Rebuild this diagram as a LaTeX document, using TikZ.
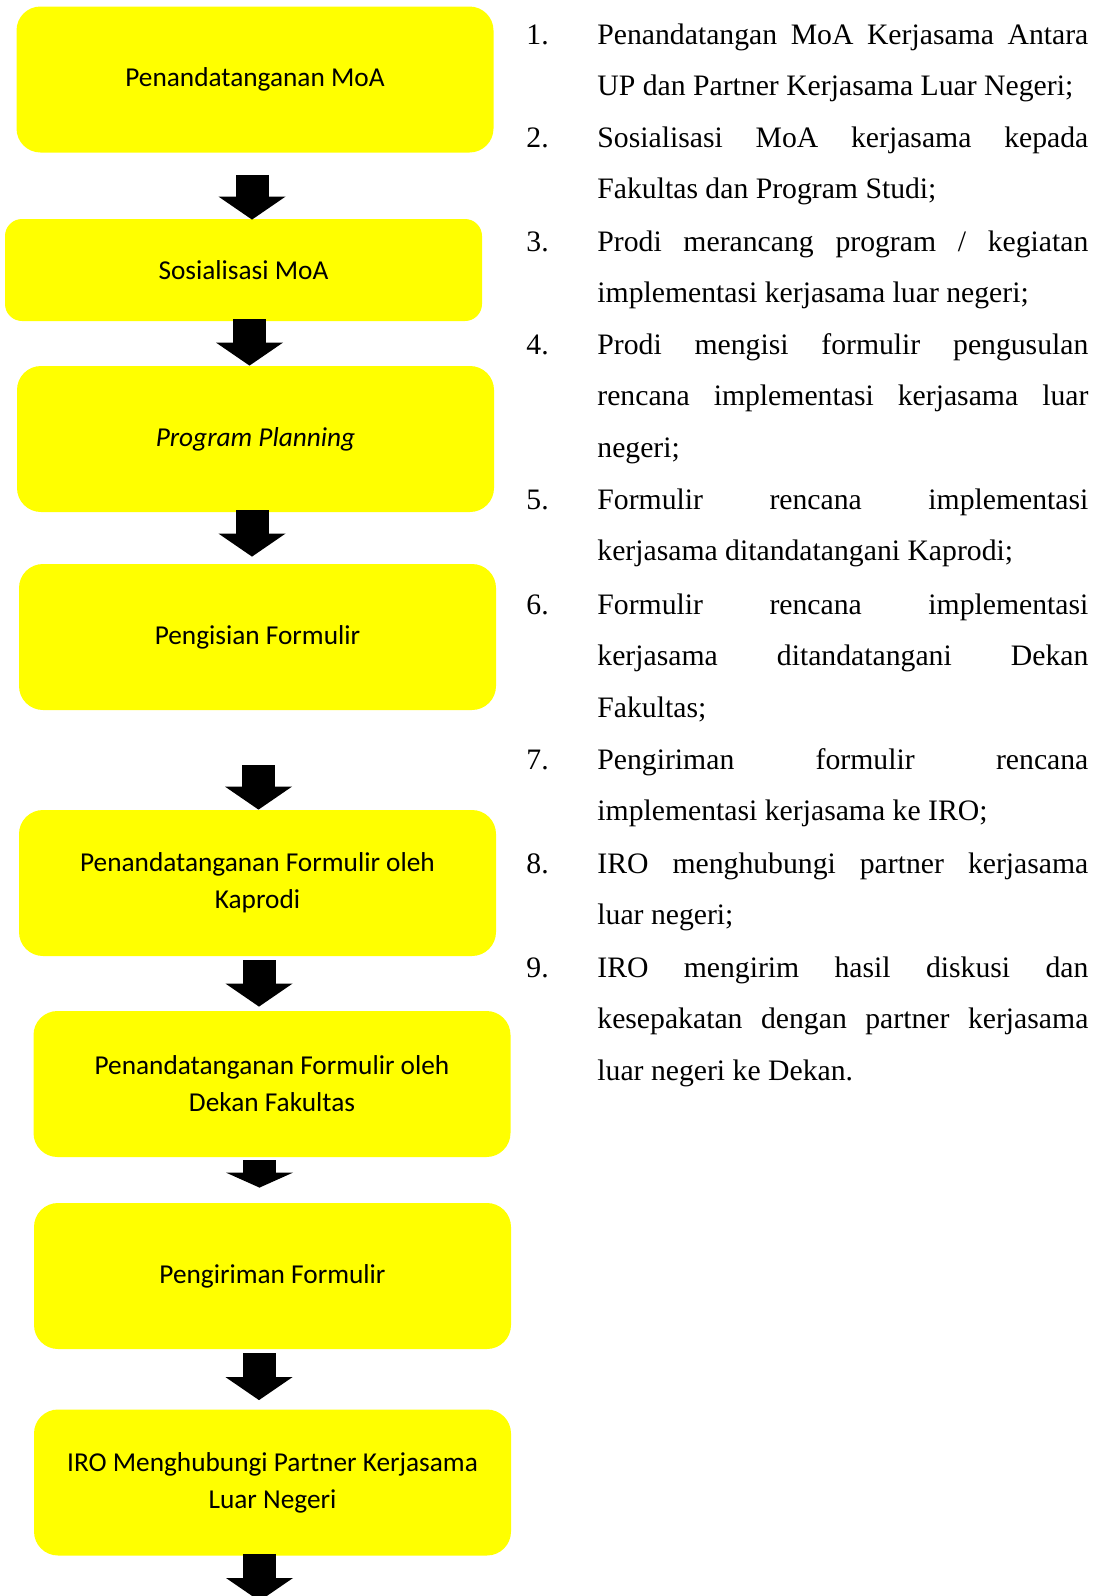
\documentclass[tikz,border=0pt]{standalone}
\usepackage{fontspec}
\setmainfont{Liberation Serif}
\newfontfamily\boxfont{Carlito}
\usetikzlibrary{arrows.meta}
\definecolor{boxyellow}{RGB}{255,255,0}

\begin{document}
\begin{tikzpicture}[
  x=0.5pt, y=-0.5pt, % one unit = one pixel, y downwards
  stepbox/.style={fill=boxyellow, rounded corners=12pt, minimum width=238.5pt,
    minimum height=73pt, inner sep=0pt, align=center,
    font=\boxfont\fontsize{13.65pt}{18.5pt}\selectfont},
  flow/.style={line width=16.5pt, -{Triangle[width=33.5pt, length=11.5pt, line width=0pt]}},
  shorthead/.style={-{Triangle[width=33.5pt, length=7.5pt, line width=0pt]}},
  itemnum/.style={anchor=base west, inner sep=0pt, font=\fontsize{14.85pt}{25.9pt}\selectfont},
  itemtext/.style={itemnum, text width=245.5pt, align=justify}
]
  \useasboundingbox (0,0) rectangle (1097,1596);

  % Flow boxes
  \node[stepbox] (b1) at (255,79.5) {Penandatanganan MoA};
  \node[stepbox, minimum height=51pt, rounded corners=8.5pt] (b2) at (243.5,270) {Sosialisasi MoA};
  \node[stepbox] (b3) at (255.5,439) {\itshape Program Planning};
  \node[stepbox] (b4) at (257.5,637) {Pengisian Formulir};
  \node[stepbox] (b5) at (257.5,883) {Penandatanganan Formulir oleh\\Kaprodi};
  \node[stepbox] (b6) at (272,1084) {Penandatanganan Formulir oleh\\Dekan Fakultas};
  \node[stepbox] (b7) at (272.5,1276) {Pengiriman Formulir};
  \node[stepbox] (b8) at (272.5,1482.5) {IRO Menghubungi Partner Kerjasama\\Luar Negeri};
  \coordinate (exit) at (259.5,1601);

  % Block arrows
  \draw[flow] ([shift={(-3,22)}]b1.south) -- ([shift={(8.5,1)}]b2.north);
  \draw[flow] ([shift={(6,-2)}]b2.south) -- ([shift={(-6,0)}]b3.north);
  \draw[flow] ([shift={(-3.5,-2)}]b3.south) -- ([shift={(-5.5,-7)}]b4.north);
  \draw[flow] ([shift={(1,55)}]b4.south) -- ([shift={(1,0)}]b5.north);
  \draw[flow] ([shift={(1.5,4)}]b5.south) -- ([shift={(-13,-4)}]b6.north);
  \draw[flow, shorthead] ([shift={(-12.5,3)}]b6.south) -- ([shift={(-13,-15)}]b7.north);
  \draw[flow] ([shift={(-13.5,4)}]b7.south) -- ([shift={(-13.5,-9)}]b8.north);
  \draw[flow] ([shift={(-13,-2)}]b8.south) -- (exit);

  % Numbered steps
  \node[itemnum] (n1) at (526,44) {1.};
  \node[itemtext] (t1) at (597,44) {Penandatangan MoA Kerjasama Antara\linebreak UP dan Partner Kerjasama Luar Negeri;};
  \node[itemnum] (n2) at (526,147) {2.};
  \node[itemtext] (t2) at (597,147) {Sosialisasi MoA kerjasama kepada\linebreak Fakultas dan Program Studi;};
  \node[itemnum] (n3) at (526,251) {3.};
  \node[itemtext] (t3) at (597,251) {Prodi merancang program / kegiatan\linebreak implementasi kerjasama luar negeri;};
  \node[itemnum] (n4) at (526,354) {4.};
  \node[itemtext] (t4) at (597,354) {Prodi mengisi formulir pengusulan\linebreak rencana implementasi kerjasama luar\linebreak negeri;};
  \node[itemnum] (n5) at (526,509) {5.};
  \node[itemtext] (t5) at (597,509) {Formulir rencana implementasi\linebreak kerjasama ditandatangani Kaprodi;};
  \node[itemnum] (n6) at (526,614) {6.};
  \node[itemtext] (t6) at (597,614) {Formulir rencana implementasi\linebreak kerjasama ditandatangani Dekan\linebreak Fakultas;};
  \node[itemnum] (n7) at (526,769) {7.};
  \node[itemtext] (t7) at (597,769) {Pengiriman formulir rencana\linebreak implementasi kerjasama ke IRO;};
  \node[itemnum] (n8) at (526,873) {8.};
  \node[itemtext] (t8) at (597,873) {IRO menghubungi partner kerjasama\linebreak luar negeri;};
  \node[itemnum] (n9) at (526,977) {9.};
  \node[itemtext] (t9) at (597,977) {IRO mengirim hasil diskusi dan\linebreak kesepakatan dengan partner kerjasama\linebreak luar negeri ke Dekan.};
\end{tikzpicture}
\end{document}
